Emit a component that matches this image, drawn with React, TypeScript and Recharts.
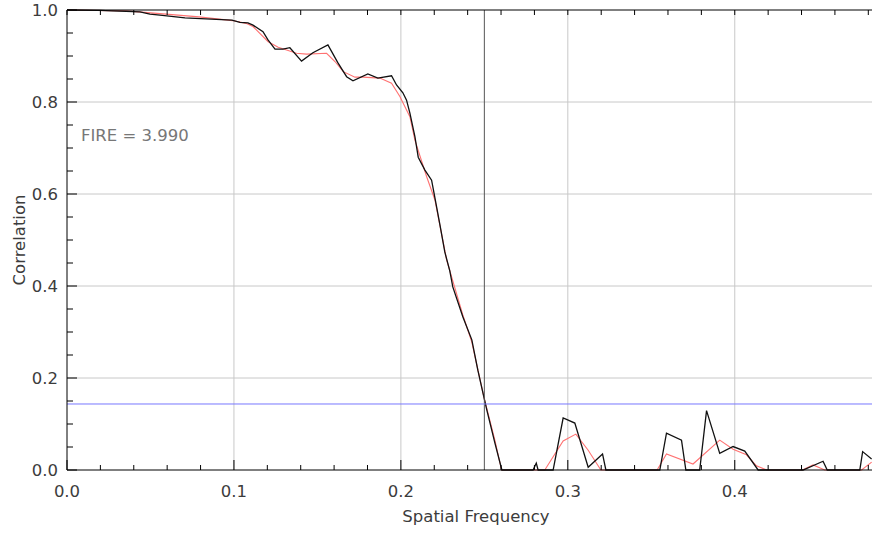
import React from 'react';
import { LineChart, Line, XAxis, YAxis, ReferenceLine } from 'recharts';

// FRC curve (black)
const frcFreq = [0, 0.0198, 0.0269, 0.0437, 0.0497, 0.0557, 0.0707, 0.0988, 0.1036, 0.1084,
  0.1114, 0.1174, 0.1204, 0.1246, 0.1293, 0.1335, 0.1405, 0.1473, 0.1563, 0.1623,
  0.1675, 0.1713, 0.1802, 0.1862, 0.1944, 0.1974, 0.2012, 0.2034, 0.2054, 0.2084,
  0.2104, 0.2144, 0.2184, 0.2193, 0.2214, 0.2234, 0.2263, 0.2293, 0.2311, 0.2371,
  0.2425, 0.2461, 0.2497, 0.2515, 0.2563, 0.2605, 0.2792, 0.2811, 0.2822, 0.2912,
  0.2972, 0.3042, 0.3122, 0.3208, 0.3228, 0.3551, 0.3591, 0.3681, 0.3707, 0.3790,
  0.3831, 0.3910, 0.3990, 0.4060, 0.4140, 0.4409, 0.4529, 0.4554, 0.4749, 0.4766,
  0.4820];
const frcCorr = [1.0, 0.999, 0.998, 0.996, 0.991, 0.989, 0.983, 0.978, 0.973, 0.972,
  0.967, 0.953, 0.935, 0.915, 0.915, 0.918, 0.889, 0.907, 0.924, 0.885,
  0.855, 0.846, 0.861, 0.852, 0.857, 0.837, 0.820, 0.804, 0.776, 0.725,
  0.680, 0.652, 0.630, 0.613, 0.572, 0.533, 0.474, 0.433, 0.398, 0.333,
  0.283, 0.217, 0.159, 0.130, 0.059, 0.0, 0, 0.015, 0, 0,
  0.113, 0.102, 0.006, 0.035, 0, 0, 0.080, 0.065, 0, 0,
  0.129, 0.036, 0.051, 0.041, 0, 0, 0.019, 0, 0, 0.040,
  0.024];

// Smoothed curve (red)
const smoothFreq = [0, 0.0353, 0.0593, 0.0790, 0.0992, 0.1072, 0.1114, 0.1205, 0.1265, 0.1375,
  0.1435, 0.1555, 0.1605, 0.1655, 0.1725, 0.1774, 0.1874, 0.1944, 0.1994, 0.2054,
  0.2084, 0.2154, 0.2204, 0.2274, 0.2304, 0.2371, 0.2425, 0.2497, 0.2563, 0.2603,
  0.2862, 0.2972, 0.3048, 0.3122, 0.3198, 0.3535, 0.3591, 0.3750, 0.3910, 0.3990,
  0.4070, 0.4130, 0.4192, 0.4405, 0.4469, 0.4539, 0.4760, 0.4820];
const smoothCorr = [1.0, 0.998, 0.991, 0.985, 0.977, 0.971, 0.964, 0.931, 0.919, 0.906,
  0.904, 0.906, 0.888, 0.866, 0.854, 0.854, 0.852, 0.841, 0.812, 0.768,
  0.717, 0.638, 0.587, 0.457, 0.420, 0.337, 0.278, 0.159, 0.065, 0,
  0, 0.063, 0.078, 0.043, 0, 0, 0.035, 0.013, 0.065, 0.045,
  0.033, 0.009, 0, 0, 0.011, 0, 0, 0.017];

const thresholdValue = 0.1435;
const fireFreq = 0.25;
const fireLabel = 'FIRE = 3.990';
const xLabel = 'Spatial Frequency';
const yLabel = 'Correlation';

const xTicks = [0, 0.02, 0.04, 0.06, 0.08, 0.1, 0.12, 0.14, 0.16, 0.18, 0.2, 0.22, 0.24,
  0.26, 0.28, 0.3, 0.32, 0.34, 0.36, 0.38, 0.4, 0.42, 0.44, 0.46, 0.48];
const yTicks = [0, 0.05, 0.1, 0.15, 0.2, 0.25, 0.3, 0.35, 0.4, 0.45, 0.5, 0.55, 0.6,
  0.65, 0.7, 0.75, 0.8, 0.85, 0.9, 0.95, 1.0];
const xGrid = [0.1, 0.2, 0.3, 0.4];
const yGrid = [0.2, 0.4, 0.6, 0.8];
const xDomain = [0, 0.49];

const frcData = frcFreq.map((f, i) => ({ freq: f, corr: frcCorr[i] }));
const smoothData = smoothFreq.map((f, i) => ({ freq: f, corr: smoothCorr[i] }));

const FONT = '"DejaVu Sans", sans-serif';
const FS = 16.5;
const TEXT = '#3c3c3c';

const isMajor = (v: number, step: number) => Math.abs(v / step - Math.round(v / step)) < 1e-6;

const BottomTick = (props: any) => {
  const { x, y, payload } = props;
  const v = payload.value as number;
  const major = isMajor(v, 0.1);
  return (
    <g>
      <line x1={x} x2={x} y1={y} y2={y - (major ? 10 : 5)} stroke="#000" strokeWidth={1} />
      {major && (
        <text x={x} y={y + 27} textAnchor="middle" fill={TEXT} fontSize={FS} fontFamily={FONT}>
          {v.toFixed(1)}
        </text>
      )}
    </g>
  );
};

const TopTick = (props: any) => {
  const { x, y } = props;
  return <line x1={x} x2={x} y1={y} y2={y + 5} stroke="#000" strokeWidth={1} />;
};

const LeftTick = (props: any) => {
  const { x, y, payload } = props;
  const v = payload.value as number;
  const major = isMajor(v, 0.2);
  return (
    <g>
      <line x1={x} x2={x + (major ? 10 : 6)} y1={y} y2={y} stroke="#000" strokeWidth={1} />
      {major && (
        <text x={x - 9} y={y + 6} textAnchor="end" fill={TEXT} fontSize={FS} fontFamily={FONT}>
          {v.toFixed(1)}
        </text>
      )}
    </g>
  );
};

export default function App() {
  return (
    <div style={{ position: 'absolute', left: 0, top: 0, width: 872, height: 533, overflow: 'hidden', background: '#fff' }}>
      <LineChart width={885} height={533} margin={{ top: 0, right: 0, bottom: 0, left: 0 }}>
        <XAxis
          xAxisId="bottom"
          dataKey="freq"
          type="number"
          domain={xDomain}
          allowDataOverflow
          ticks={xTicks}
          interval={0}
          height={63}
          tickSize={0}
          tickMargin={0}
          tickLine={false}
          axisLine={{ stroke: '#000' }}
          tick={<BottomTick />}
          label={{ value: xLabel, position: 'insideBottom', offset: 11, fill: TEXT, fontSize: FS, fontFamily: FONT }}
        />
        <XAxis
          xAxisId="top"
          orientation="top"
          dataKey="freq"
          type="number"
          domain={xDomain}
          allowDataOverflow
          ticks={xTicks}
          interval={0}
          height={10}
          tickSize={0}
          tickMargin={0}
          tickLine={false}
          axisLine={{ stroke: '#000' }}
          tick={<TopTick />}
        />
        <YAxis
          yAxisId="left"
          type="number"
          domain={[0, 1]}
          ticks={yTicks}
          interval={0}
          width={67}
          tickSize={0}
          tickMargin={0}
          tickLine={false}
          axisLine={{ stroke: '#000' }}
          tick={<LeftTick />}
          label={{ value: yLabel, angle: -90, position: 'insideLeft', offset: 19, fill: TEXT, fontSize: FS, fontFamily: FONT, style: { textAnchor: 'middle' } }}
        />
        {xGrid.map((g) => (
          <ReferenceLine key={'x' + g} x={g} xAxisId="bottom" yAxisId="left" stroke="#c8c8c8" strokeWidth={1} />
        ))}
        {yGrid.map((g) => (
          <ReferenceLine key={'y' + g} y={g} xAxisId="bottom" yAxisId="left" stroke="#c8c8c8" strokeWidth={1} />
        ))}
        <Line
          data={smoothData}
          dataKey="corr"
          xAxisId="bottom"
          yAxisId="left"
          type="linear"
          stroke="#ff7272"
          strokeWidth={1.1}
          dot={false}
          isAnimationActive={false}
        />
        <Line
          data={frcData}
          dataKey="corr"
          xAxisId="bottom"
          yAxisId="left"
          type="linear"
          stroke="#111"
          strokeWidth={1.3}
          dot={false}
          isAnimationActive={false}
        />
        <ReferenceLine x={fireFreq} xAxisId="bottom" yAxisId="left" stroke="#555" strokeWidth={1} />
        <ReferenceLine y={thresholdValue} xAxisId="bottom" yAxisId="left" stroke="#7878ff" strokeWidth={1} />
      </LineChart>
      <div
        style={{
          position: 'absolute',
          left: 81,
          top: 126,
          fontFamily: FONT,
          fontSize: FS,
          color: '#777',
          whiteSpace: 'nowrap',
          lineHeight: '20px',
        }}
      >
        {fireLabel}
      </div>
    </div>
  );
}
